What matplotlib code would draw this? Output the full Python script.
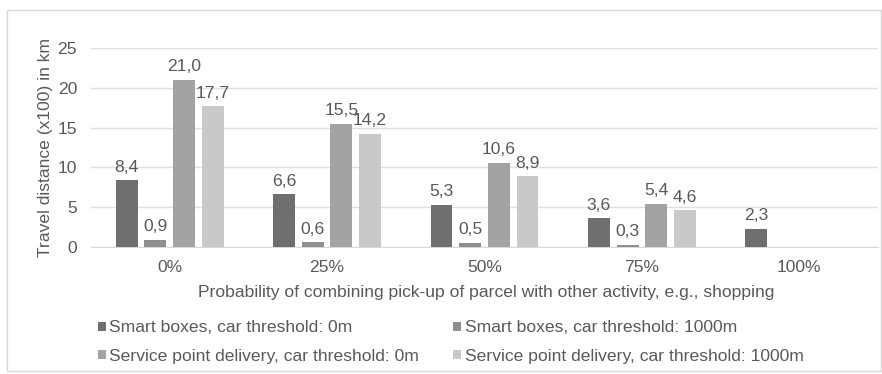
import matplotlib
matplotlib.use("Agg")
import matplotlib.pyplot as plt
import numpy as np
from matplotlib.patches import Rectangle

plt.rcParams['font.family'] = ['Liberation Sans', 'DejaVu Sans']

categories = ["0%", "25%", "50%", "75%", "100%"]
series_names = [
    "Smart boxes, car threshold: 0m",
    "Smart boxes, car threshold: 1000m",
    "Service point delivery, car threshold: 0m",
    "Service point delivery, car threshold: 1000m",
]
smart_0m = [8.4, 6.6, 5.3, 3.6, 2.3]
smart_1000m = [0.9, 0.6, 0.5, 0.3, None]
service_0m = [21.0, 15.5, 10.6, 5.4, None]
service_1000m = [17.7, 14.2, 8.9, 4.6, None]
yticks = [0, 5, 10, 15, 20, 25]

series = [smart_0m, smart_1000m, service_0m, service_1000m]
colors = ["#6f6f6f", "#8f8f8f", "#a3a3a3", "#c9c9c9"]
text_color = "#595959"
FS = 12.6

W, H = 882, 374
fig = plt.figure(figsize=(W / 100, H / 100), dpi=100)
fig.patch.set_facecolor("white")

# outer chart frame
fig.patches.append(Rectangle((7 / W, 1 - 371 / H), (881 - 7) / W, (371 - 10) / H,
                             transform=fig.transFigure, fill=False,
                             edgecolor="#d9d9d9", linewidth=1.0))

left, right = 91 / W, 878 / W
bottom, top = 1 - 247 / H, 1 - 48 / H
ax = fig.add_axes([left, bottom, right - left, top - bottom])

x = np.arange(len(categories))
bw = 0.139
step = 0.182
offsets = (np.arange(4) - 1.5) * step

handles = []
for i, (vals, col) in enumerate(zip(series, colors)):
    xs = [xi + offsets[i] for xi, v in zip(x, vals) if v is not None]
    vs = [v for v in vals if v is not None]
    bars = ax.bar(xs, vs, width=bw, color=col, zorder=3, label=series_names[i])
    handles.append(bars)
    ax.bar_label(bars, labels=[f"{v:.1f}".replace(".", ",") for v in vs],
                 padding=4, fontsize=FS, color=text_color)

ax.set_xlim(-0.5, len(categories) - 0.5)
ax.set_ylim(0, 25)
ax.set_yticks(yticks)
ax.set_yticklabels([str(t) for t in yticks])
ax.set_xticks(x)
ax.set_xticklabels(categories)
ax.tick_params(axis='both', length=0, labelsize=FS, labelcolor=text_color)
ax.tick_params(axis='y', pad=10)
ax.tick_params(axis='x', pad=9)
ax.grid(axis='y', color="#e0e0e0", linewidth=1.0, zorder=0)
for s in ["top", "right", "left"]:
    ax.spines[s].set_visible(False)
ax.spines["bottom"].set_color("#d9d9d9")
ax.set_facecolor("none")

ax.set_ylabel("Travel distance (x100) in km", fontsize=FS, color=text_color, labelpad=3)
fig.text(486 / W, 1 - 293 / H,
         "Probability of combining pick-up of parcel with other activity, e.g., shopping",
         ha="center", va="center", fontsize=FS, color=text_color)

order = [0, 2, 1, 3]
leg = fig.legend([handles[i] for i in order], [series_names[i] for i in order],
                 ncol=2, loc="center left", bbox_to_anchor=(98 / W, 1 - 342 / H),
                 frameon=False, fontsize=FS, handlelength=0.45, handleheight=0.45,
                 handletextpad=0.2, columnspacing=1.95, labelspacing=0.75,
                 borderaxespad=0, borderpad=0)
for t in leg.get_texts():
    t.set_color(text_color)

fig.savefig("out.png", dpi=100)
